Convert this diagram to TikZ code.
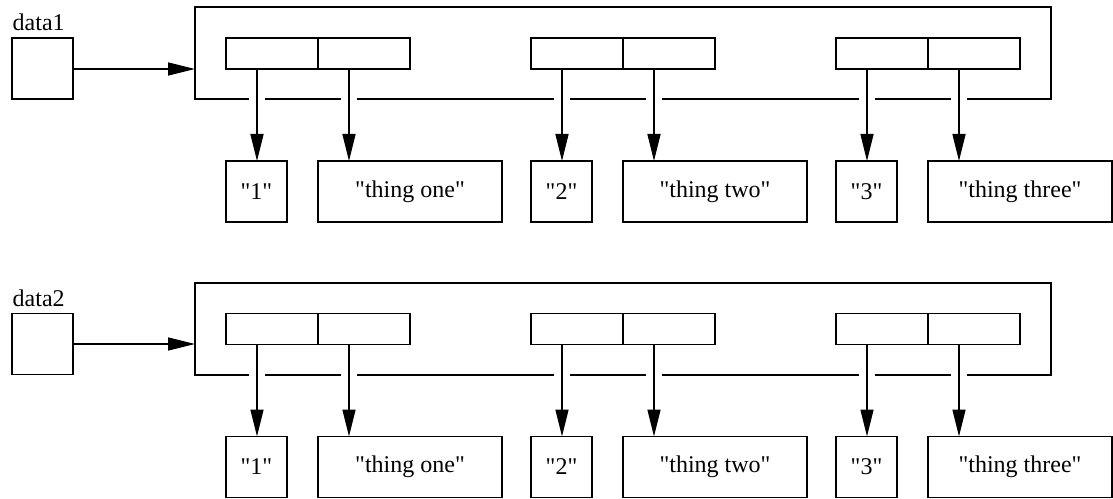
\documentclass[tikz,border=0pt]{standalone}
\usepackage{fontspec}
\setmainfont{Liberation Serif}[Ligatures=TeXOff]
\usetikzlibrary{arrows.meta,positioning,calc}

\begin{document}
\begin{tikzpicture}[x=1pt,y=1pt,line width=1.4pt,>={Triangle[length=27pt,width=13pt]},
        every node/.style={font=\fontsize{24}{28}\selectfont},
        box/.style={draw,minimum height=61pt,inner sep=0pt,outer sep=0pt},
        ptrbox/.style={box,minimum width=61pt},
        keybox/.style={box,minimum width=61pt},
        strbox/.style={box,minimum width=184pt},
        cell/.style={draw,minimum width=92pt,minimum height=31pt,inner sep=0pt,outer sep=0pt},
        frame/.style={draw,minimum width=856pt,minimum height=92pt,inner sep=0pt,outer sep=0pt},
        lbl/.style={anchor=base west,inner sep=0pt},
        gap/.style={draw=white,line width=16pt},
        node distance=0pt]
        \useasboundingbox (0,0) rectangle (1113,498);

        % first map
        \node[lbl] (la) at (12,467) {data1};
        \node[ptrbox] (pa) at (42.5,429.5) {};
        \node[frame] (fa) at (623,445) {};
        \node[cell] (ka1) at (272,444.5) {};
        \node[cell,right=of ka1] (va1) {};
        \node[cell] (ka2) at (577,444.5) {};
        \node[cell,right=of ka2] (va2) {};
        \node[cell] (ka3) at (882,444.5) {};
        \node[cell,right=of ka3] (va3) {};
        \node[keybox] (na1) at (256.5,306.5) {"1"};
        \node[strbox] (ta1) at (410,306.5) {"thing one"};
        \node[keybox] (na2) at (561.5,306.5) {"2"};
        \node[strbox] (ta2) at (715,306.5) {"thing two"};
        \node[keybox] (na3) at (866.5,306.5) {"3"};
        \node[strbox] (ta3) at (1020,306.5) {"thing three"};
        \coordinate (paout) at ($(pa.east)+(0,-0.5)$);
        \coordinate (na1in) at ($(na1.north west)+(31,0)$);
        \coordinate (na2in) at ($(na2.north west)+(31,0)$);
        \coordinate (na3in) at ($(na3.north west)+(31,0)$);
        \coordinate (ta1in) at ($(ta1.north west)+(31,0)$);
        \coordinate (ta2in) at ($(ta2.north west)+(31,0)$);
        \coordinate (ta3in) at ($(ta3.north west)+(31,0)$);

        % second map
        \node[lbl] (lb) at (12,191.5) {data2};
        \node[ptrbox] (pb) at (42.5,154) {};
        \node[frame] (fb) at (623,169) {};
        \node[cell] (kb1) at (272,169) {};
        \node[cell,right=of kb1] (vb1) {};
        \node[cell] (kb2) at (577,169) {};
        \node[cell,right=of kb2] (vb2) {};
        \node[cell] (kb3) at (882,169) {};
        \node[cell,right=of kb3] (vb3) {};
        \node[keybox] (nb1) at (256.5,31) {"1"};
        \node[strbox] (tb1) at (410,31) {"thing one"};
        \node[keybox] (nb2) at (561.5,31) {"2"};
        \node[strbox] (tb2) at (715,31) {"thing two"};
        \node[keybox] (nb3) at (866.5,31) {"3"};
        \node[strbox] (tb3) at (1020,31) {"thing three"};
        \coordinate (pbout) at (pb.east);
        \coordinate (nb1in) at ($(nb1.north west)+(31,0)$);
        \coordinate (nb2in) at ($(nb2.north west)+(31,0)$);
        \coordinate (nb3in) at ($(nb3.north west)+(31,0)$);
        \coordinate (tb1in) at ($(tb1.north west)+(31,0)$);
        \coordinate (tb2in) at ($(tb2.north west)+(31,0)$);
        \coordinate (tb3in) at ($(tb3.north west)+(31,0)$);

        % breaks in the frame where the pointers pass
        \foreach \a in {na1in,ta1in,na2in,ta2in,na3in,ta3in}
            \draw[gap] ($(fa.south -| \a)+(0,2)$) -- ++(0,-4);
        \foreach \a in {nb1in,tb1in,nb2in,tb2in,nb3in,tb3in}
            \draw[gap] ($(fb.south -| \a)+(0,2)$) -- ++(0,-4);

        \path[->] (paout) edge (paout -| fa.west)
                  (ka1.south -| na1in) edge (na1in)
                  (va1.south -| ta1in) edge (ta1in)
                  (ka2.south -| na2in) edge (na2in)
                  (va2.south -| ta2in) edge (ta2in)
                  (ka3.south -| na3in) edge (na3in)
                  (va3.south -| ta3in) edge (ta3in)
                  (pbout) edge (pbout -| fb.west)
                  (kb1.south -| nb1in) edge (nb1in)
                  (vb1.south -| tb1in) edge (tb1in)
                  (kb2.south -| nb2in) edge (nb2in)
                  (vb2.south -| tb2in) edge (tb2in)
                  (kb3.south -| nb3in) edge (nb3in)
                  (vb3.south -| tb3in) edge (tb3in);
\end{tikzpicture}
\end{document}
